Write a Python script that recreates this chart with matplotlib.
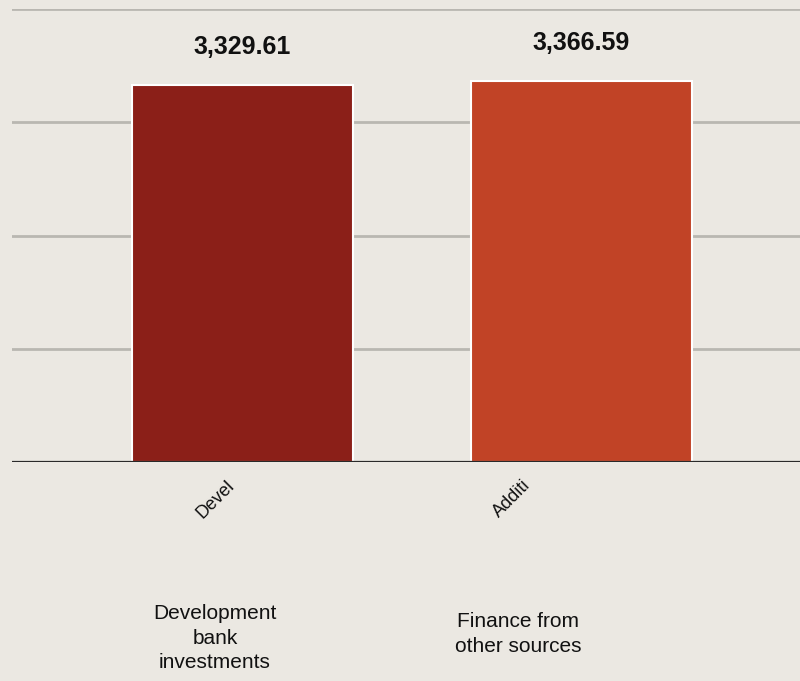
import matplotlib.pyplot as plt
import numpy as np

plt.rcParams['font.family'] = ['Liberation Sans', 'DejaVu Sans']

# datos
categories = ["Development\nbank\ninvestments", "Finance from\nother sources"]
tick_labels = ["Devel", "Additi"]
values = [3329.61, 3366.59]
colors = ["#8b1f18", "#c14326"]
grid_values = [1000, 2000, 3000, 4000]

bg = "#ebe8e2"
fig = plt.figure(figsize=(8, 6.81), dpi=100, facecolor=bg)
ax = fig.add_axes([0.015, 1 - 462 / 681, 0.985, 453 / 681], facecolor=bg)

x = np.arange(len(values))
bars = ax.bar(x, values, width=0.652, color=colors, edgecolor="white",
              linewidth=1.5, zorder=3)

ax.set_xlim(-0.68, 1.645)
ax.set_ylim(0, 4000)

# lineas de grilla
for g in grid_values:
    ax.axhline(g, color="#b9b7b1", linewidth=2, zorder=1)
ax.axhline(0, color="#2a2a2a", linewidth=1.6, zorder=4)

for s in ax.spines.values():
    s.set_visible(False)
ax.set_xticks([])
ax.set_yticks([])

# etiquetas de valor
for xi, v in zip(x, values):
    ax.annotate("{:,.2f}".format(v), (xi, v), xytext=(0, 38),
                textcoords="offset pixels",
                ha="center", va="center", fontsize=18, fontweight="bold",
                color="#111111")

# etiquetas cortadas (rotadas)
tick_x = [238 / 800, 534 / 800]
for tx, lab in zip(tick_x, tick_labels):
    fig.text(tx, 1 - 477 / 681, lab, rotation=45, ha="right", va="top",
             fontsize=13, color="#111111")

# nombres de categoria
cat_pos = [(215, 638), (518, 634)]
for (px, py), lab in zip(cat_pos, categories):
    fig.text(px / 800, 1 - py / 681, lab, ha="center", va="center",
             fontsize=15, color="#111111", linespacing=1.38)

fig.savefig("out.png", dpi=100, facecolor=bg)
